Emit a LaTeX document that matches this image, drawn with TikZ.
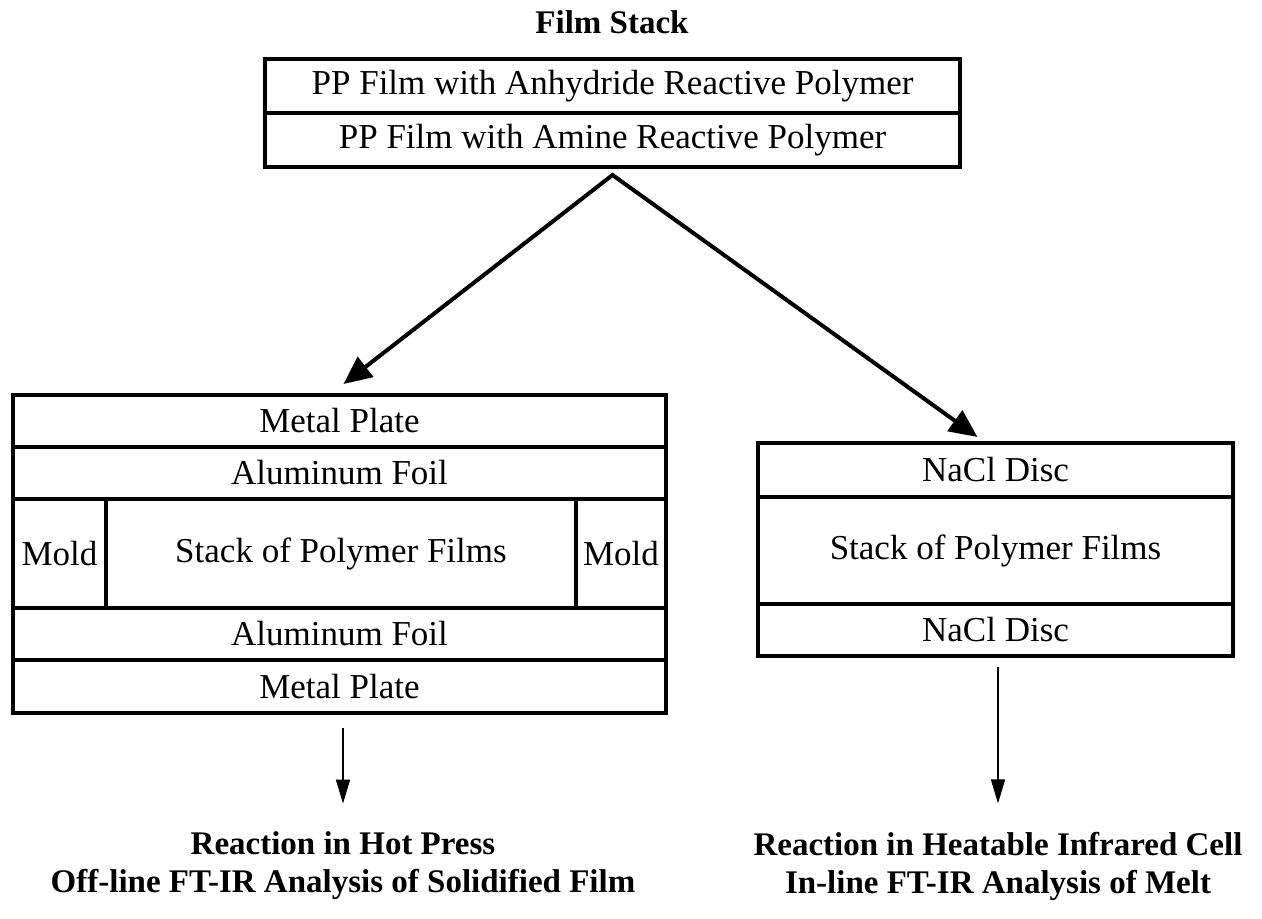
\documentclass[tikz,border=0pt]{standalone}
\usepackage{fontspec}
\setmainfont{Liberation Serif}
\usetikzlibrary{arrows.meta,calc}
\begin{document}
\begin{tikzpicture}[x=0.5pt,y=-0.5pt,
  cell/.style={draw, line width=2pt, inner sep=0pt, outer sep=0pt,
    font=\fontsize{17.5}{20}\selectfont, align=center},
  title/.style={font=\fontsize{16.5}{19}\selectfont\bfseries, align=center, inner sep=0pt},
  bigarrow/.style={line width=2pt, line join=miter,
    {Triangle[length=14pt,width=12.5pt]}-{Triangle[length=14pt,width=12.5pt]}},
  thinarrow/.style={line width=0.8pt, -{Triangle[length=12pt,width=7pt]}}]
\useasboundingbox (0,0) rectangle (1262,919);
% title
\node[title] (fs) at (612,22) {Film Stack};
% top film stack
\node[cell, minimum width=347.5pt, minimum height=27pt] (t1) at (612.5,86)
  {PP Film with Anhydride Reactive Polymer};
\node[cell, minimum width=347.5pt, minimum height=27pt] (t2) at (612.5,140)
  {PP Film with Amine Reactive Polymer};
% left stack (hot press)
\node[cell, minimum width=326.5pt, minimum height=26pt] (l1) at (339.5,421) {Metal Plate};
\node[cell, minimum width=326.5pt, minimum height=26pt] (l2) at (339.5,473) {Aluminum Foil};
\node[cell, minimum width=46.5pt, minimum height=54.5pt] (ml) at (59.5,553.5) {Mold};
\node[cell, minimum width=235pt, minimum height=54.5pt] (ls) at (341,553.5) {Stack of Polymer Films};
\node[cell, minimum width=45pt, minimum height=54.5pt] (mr) at (621,553.5) {Mold};
\node[cell, minimum width=326.5pt, minimum height=26pt] (l4) at (339.5,634) {Aluminum Foil};
\node[cell, minimum width=326.5pt, minimum height=26.5pt] (l5) at (339.5,686.5) {Metal Plate};
% right stack (IR cell)
\node[cell, minimum width=237.5pt, minimum height=27pt] (r1) at (995.5,470) {NaCl Disc};
\node[cell, minimum width=237.5pt, minimum height=53.5pt] (r2) at (995.5,550.5) {Stack of Polymer Films};
\node[cell, minimum width=237.5pt, minimum height=26pt] (r3) at (995.5,630) {NaCl Disc};
% bottom labels
\node[title] (bl) at (343,866) {Reaction in Hot Press\\Off-line FT-IR Analysis of Solidified Film};
\node[title] (br) at (998,866) {Reaction in Heatable Infrared Cell\\In-line FT-IR Analysis of Melt};
% connectors
\coordinate (apex) at ($(t2.south)+(0,-4pt)$);
\coordinate (ltip) at ($(l1.north)+(2pt,5.5pt)$);
\coordinate (rtip) at ($(r1.north)+(-9pt,3pt)$);
\draw[bigarrow] (ltip) -- (apex) -- (rtip);
\coordinate (lend) at ($(bl.north)+(0,14pt)$);
\coordinate (rend) at ($(br.north)+(0,14pt)$);
\draw[thinarrow] ($(lend |- l5.south)+(0,-7.5pt)$) -- (lend);
\draw[thinarrow] ($(rend |- r3.south)+(0,-5.5pt)$) -- (rend);
\end{tikzpicture}
\end{document}
